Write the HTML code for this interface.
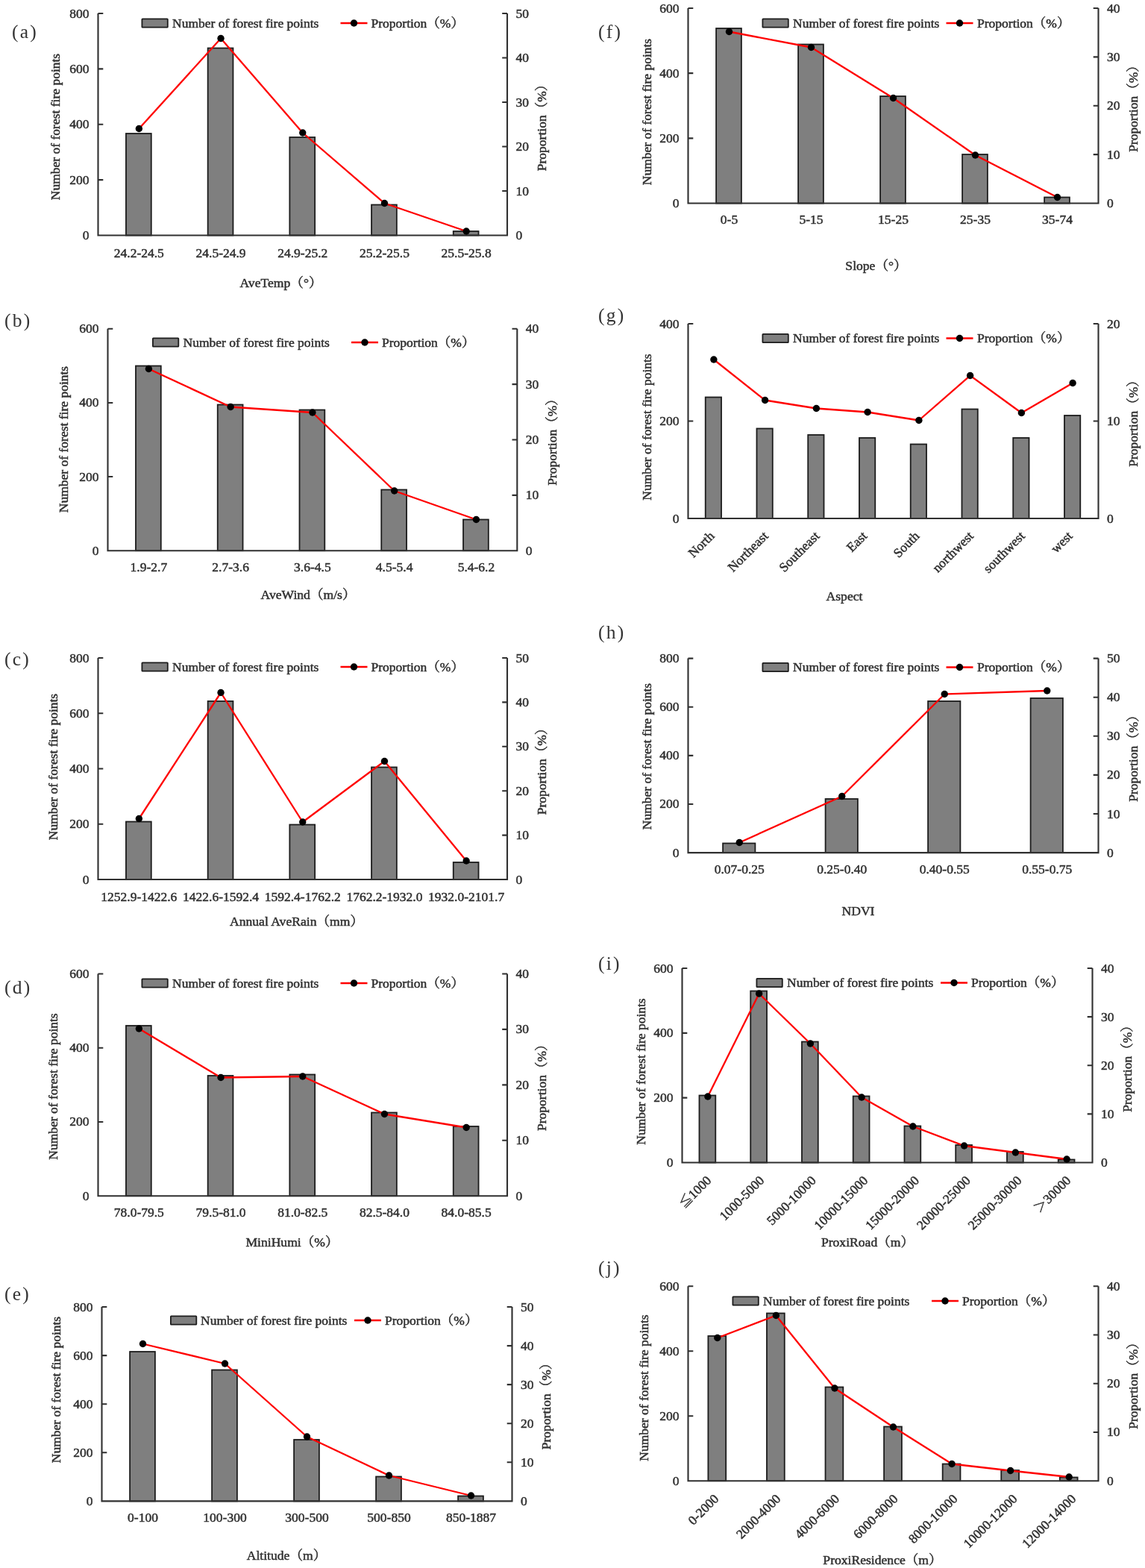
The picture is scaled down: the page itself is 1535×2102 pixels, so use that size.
<!DOCTYPE html>
<html lang="en">
<head>
<meta charset="utf-8">
<title>Forest fire points and proportion by factor</title>
<style>
html,body{margin:0;padding:0;background:#fff;}
body{width:1535px;height:2102px;overflow:hidden;}
svg{display:block;}
.t{font-family:"Liberation Serif","Noto Serif CJK SC",serif;font-size:17.5px;fill:#303030;stroke:#303030;stroke-width:0.5px;}
.xt{font-size:17.6px;}
.pl{font-family:"Liberation Serif","Noto Serif CJK SC",serif;font-size:25.5px;fill:#333;letter-spacing:2.2px;}
.bar{fill:#7f7f7f;stroke:#1c1c1c;stroke-width:1.8;}
.ax{fill:none;stroke:#303030;stroke-width:2.1;}
.ln{fill:none;stroke:#ff0000;stroke-width:2.3;stroke-linejoin:round;}
.mk{fill:#000;}
</style>
</head>
<body>
<svg width="1535" height="2102" viewBox="0 0 1535 2102">
<rect x="0" y="0" width="1535" height="2102" fill="#ffffff"/>
<g class="chart" id="chart-a">
<rect class="bar" x="168.95" y="179" width="33.8" height="136.5"/>
<rect class="bar" x="278.65" y="64.5" width="33.8" height="251"/>
<rect class="bar" x="388.35" y="184" width="33.8" height="131.5"/>
<rect class="bar" x="498.05" y="274.5" width="33.8" height="41"/>
<rect class="bar" x="607.75" y="310" width="33.8" height="5.5"/>
<path class="ax" d="M131.5 18V315.5H680V18"/>
<text class="t" text-anchor="end" x="119.5" y="321">0</text>
<text class="t" text-anchor="end" x="119.5" y="246.62">200</text>
<text class="t" text-anchor="end" x="119.5" y="172.25">400</text>
<text class="t" text-anchor="end" x="119.5" y="97.88">600</text>
<text class="t" text-anchor="end" x="119.5" y="23.5">800</text>
<text class="t" x="691.5" y="321">0</text>
<text class="t" x="691.5" y="261.5">10</text>
<text class="t" x="691.5" y="202">20</text>
<text class="t" x="691.5" y="142.5">30</text>
<text class="t" x="691.5" y="83">40</text>
<text class="t" x="691.5" y="23.5">50</text>
<path class="ax" d="M131.5 241.12h6.8M131.5 166.75h6.8M131.5 92.38h6.8M131.5 18h6.8M680 256h-6.8M680 196.5h-6.8M680 137h-6.8M680 77.5h-6.8M680 18h-6.8"/>
<polyline class="ln" points="186.35,172.5 296.05,51.5 405.75,178 515.45,272.5 625.15,310"/>
<circle class="mk" cx="186.35" cy="172.5" r="4.7"/>
<circle class="mk" cx="296.05" cy="51.5" r="4.7"/>
<circle class="mk" cx="405.75" cy="178" r="4.7"/>
<circle class="mk" cx="515.45" cy="272.5" r="4.7"/>
<circle class="mk" cx="625.15" cy="310" r="4.7"/>
<text class="t" text-anchor="middle" x="186.35" y="344.5">24.2-24.5</text>
<text class="t" text-anchor="middle" x="296.05" y="344.5">24.5-24.9</text>
<text class="t" text-anchor="middle" x="405.75" y="344.5">24.9-25.2</text>
<text class="t" text-anchor="middle" x="515.45" y="344.5">25.2-25.5</text>
<text class="t" text-anchor="middle" x="625.15" y="344.5">25.5-25.8</text>
<rect class="bar" x="190.4" y="25.3" width="34.4" height="11.4" rx="0.6"/>
<text class="t" x="231" y="36.9">Number of forest fire points</text>
<path class="ln" d="M456.5 31h36"/>
<circle class="mk" cx="474.5" cy="31" r="4.7"/>
<text class="t" x="497.5" y="36.9">Proportion（%）</text>
<text class="t" text-anchor="middle" transform="translate(79.8 170) rotate(-90)" x="0" y="0">Number of forest fire points</text>
<text class="t" text-anchor="middle" transform="translate(731.5 167) rotate(-90)" x="0" y="0">Proportion（%）</text>
<text class="t xt" text-anchor="middle" x="376.5" y="384.5">AveTemp（°）</text>
<text class="pl" x="16" y="51">(a)</text>
</g>
<g class="chart" id="chart-b">
<rect class="bar" x="181.98" y="490.5" width="33.8" height="247.7"/>
<rect class="bar" x="291.74" y="542.5" width="33.8" height="195.7"/>
<rect class="bar" x="401.5" y="549.5" width="33.8" height="188.7"/>
<rect class="bar" x="511.26" y="656.5" width="33.8" height="81.7"/>
<rect class="bar" x="621.02" y="696.5" width="33.8" height="41.7"/>
<path class="ax" d="M144.5 440.8V738.2H693.3V440.8"/>
<text class="t" text-anchor="end" x="132.5" y="743.7">0</text>
<text class="t" text-anchor="end" x="132.5" y="644.57">200</text>
<text class="t" text-anchor="end" x="132.5" y="545.43">400</text>
<text class="t" text-anchor="end" x="132.5" y="446.3">600</text>
<text class="t" x="704.8" y="743.7">0</text>
<text class="t" x="704.8" y="669.35">10</text>
<text class="t" x="704.8" y="595">20</text>
<text class="t" x="704.8" y="520.65">30</text>
<text class="t" x="704.8" y="446.3">40</text>
<path class="ax" d="M144.5 639.07h6.8M144.5 539.93h6.8M144.5 440.8h6.8M693.3 663.85h-6.8M693.3 589.5h-6.8M693.3 515.15h-6.8M693.3 440.8h-6.8"/>
<polyline class="ln" points="199.38,494.5 309.14,545.5 418.9,553 528.66,658 638.42,696.5"/>
<circle class="mk" cx="199.38" cy="494.5" r="4.7"/>
<circle class="mk" cx="309.14" cy="545.5" r="4.7"/>
<circle class="mk" cx="418.9" cy="553" r="4.7"/>
<circle class="mk" cx="528.66" cy="658" r="4.7"/>
<circle class="mk" cx="638.42" cy="696.5" r="4.7"/>
<text class="t" text-anchor="middle" x="199.38" y="766.4">1.9-2.7</text>
<text class="t" text-anchor="middle" x="309.14" y="766.4">2.7-3.6</text>
<text class="t" text-anchor="middle" x="418.9" y="766.4">3.6-4.5</text>
<text class="t" text-anchor="middle" x="528.66" y="766.4">4.5-5.4</text>
<text class="t" text-anchor="middle" x="638.42" y="766.4">5.4-6.2</text>
<rect class="bar" x="204.9" y="453.3" width="34.4" height="11.4" rx="0.6"/>
<text class="t" x="245.5" y="464.9">Number of forest fire points</text>
<path class="ln" d="M471 459h36"/>
<circle class="mk" cx="489" cy="459" r="4.7"/>
<text class="t" x="512" y="464.9">Proportion（%）</text>
<text class="t" text-anchor="middle" transform="translate(90.8 589) rotate(-90)" x="0" y="0">Number of forest fire points</text>
<text class="t" text-anchor="middle" transform="translate(745.5 588.5) rotate(-90)" x="0" y="0">Proportion（%）</text>
<text class="t xt" text-anchor="middle" x="413" y="802.8">AveWind（m/s）</text>
<text class="pl" x="6" y="438">(b)</text>
</g>
<g class="chart" id="chart-c">
<rect class="bar" x="168.95" y="1101.5" width="33.8" height="77.5"/>
<rect class="bar" x="278.65" y="940" width="33.8" height="239"/>
<rect class="bar" x="388.35" y="1105.5" width="33.8" height="73.5"/>
<rect class="bar" x="498.05" y="1028.5" width="33.8" height="150.5"/>
<rect class="bar" x="607.75" y="1156" width="33.8" height="23"/>
<path class="ax" d="M131.5 882V1179H680V882"/>
<text class="t" text-anchor="end" x="119.5" y="1184.5">0</text>
<text class="t" text-anchor="end" x="119.5" y="1110.25">200</text>
<text class="t" text-anchor="end" x="119.5" y="1036">400</text>
<text class="t" text-anchor="end" x="119.5" y="961.75">600</text>
<text class="t" text-anchor="end" x="119.5" y="887.5">800</text>
<text class="t" x="691.5" y="1184.5">0</text>
<text class="t" x="691.5" y="1125.1">10</text>
<text class="t" x="691.5" y="1065.7">20</text>
<text class="t" x="691.5" y="1006.3">30</text>
<text class="t" x="691.5" y="946.9">40</text>
<text class="t" x="691.5" y="887.5">50</text>
<path class="ax" d="M131.5 1104.75h6.8M131.5 1030.5h6.8M131.5 956.25h6.8M131.5 882h6.8M680 1119.6h-6.8M680 1060.2h-6.8M680 1000.8h-6.8M680 941.4h-6.8M680 882h-6.8"/>
<polyline class="ln" points="186.35,1097.5 296.05,928.5 405.75,1102 515.45,1020.5 625.15,1154"/>
<circle class="mk" cx="186.35" cy="1097.5" r="4.7"/>
<circle class="mk" cx="296.05" cy="928.5" r="4.7"/>
<circle class="mk" cx="405.75" cy="1102" r="4.7"/>
<circle class="mk" cx="515.45" cy="1020.5" r="4.7"/>
<circle class="mk" cx="625.15" cy="1154" r="4.7"/>
<text class="t" text-anchor="middle" x="186.35" y="1207.5">1252.9-1422.6</text>
<text class="t" text-anchor="middle" x="296.05" y="1207.5">1422.6-1592.4</text>
<text class="t" text-anchor="middle" x="405.75" y="1207.5">1592.4-1762.2</text>
<text class="t" text-anchor="middle" x="515.45" y="1207.5">1762.2-1932.0</text>
<text class="t" text-anchor="middle" x="625.15" y="1207.5">1932.0-2101.7</text>
<rect class="bar" x="190.4" y="888.3" width="34.4" height="11.4" rx="0.6"/>
<text class="t" x="231" y="899.9">Number of forest fire points</text>
<path class="ln" d="M456.5 894h36"/>
<circle class="mk" cx="474.5" cy="894" r="4.7"/>
<text class="t" x="497.5" y="899.9">Proportion（%）</text>
<text class="t" text-anchor="middle" transform="translate(77.3 1028) rotate(-90)" x="0" y="0">Number of forest fire points</text>
<text class="t" text-anchor="middle" transform="translate(732 1030) rotate(-90)" x="0" y="0">Proportion（%）</text>
<text class="t xt" text-anchor="middle" x="397.5" y="1240.9">Annual AveRain（mm）</text>
<text class="pl" x="6" y="892">(c)</text>
</g>
<g class="chart" id="chart-d">
<rect class="bar" x="168.95" y="1375" width="33.8" height="228.2"/>
<rect class="bar" x="278.65" y="1442" width="33.8" height="161.2"/>
<rect class="bar" x="388.35" y="1440.5" width="33.8" height="162.7"/>
<rect class="bar" x="498.05" y="1491.5" width="33.8" height="111.7"/>
<rect class="bar" x="607.75" y="1510" width="33.8" height="93.2"/>
<path class="ax" d="M131.5 1305.5V1603.2H680V1305.5"/>
<text class="t" text-anchor="end" x="119.5" y="1608.7">0</text>
<text class="t" text-anchor="end" x="119.5" y="1509.47">200</text>
<text class="t" text-anchor="end" x="119.5" y="1410.23">400</text>
<text class="t" text-anchor="end" x="119.5" y="1311">600</text>
<text class="t" x="691.5" y="1608.7">0</text>
<text class="t" x="691.5" y="1534.28">10</text>
<text class="t" x="691.5" y="1459.85">20</text>
<text class="t" x="691.5" y="1385.42">30</text>
<text class="t" x="691.5" y="1311">40</text>
<path class="ax" d="M131.5 1503.97h6.8M131.5 1404.73h6.8M131.5 1305.5h6.8M680 1528.78h-6.8M680 1454.35h-6.8M680 1379.92h-6.8M680 1305.5h-6.8"/>
<polyline class="ln" points="186.35,1379 296.05,1444.5 405.75,1443 515.45,1493.5 625.15,1511.5"/>
<circle class="mk" cx="186.35" cy="1379" r="4.7"/>
<circle class="mk" cx="296.05" cy="1444.5" r="4.7"/>
<circle class="mk" cx="405.75" cy="1443" r="4.7"/>
<circle class="mk" cx="515.45" cy="1493.5" r="4.7"/>
<circle class="mk" cx="625.15" cy="1511.5" r="4.7"/>
<text class="t" text-anchor="middle" x="186.35" y="1630.9">78.0-79.5</text>
<text class="t" text-anchor="middle" x="296.05" y="1630.9">79.5-81.0</text>
<text class="t" text-anchor="middle" x="405.75" y="1630.9">81.0-82.5</text>
<text class="t" text-anchor="middle" x="515.45" y="1630.9">82.5-84.0</text>
<text class="t" text-anchor="middle" x="625.15" y="1630.9">84.0-85.5</text>
<rect class="bar" x="190.4" y="1312.3" width="34.4" height="11.4" rx="0.6"/>
<text class="t" x="231" y="1323.9">Number of forest fire points</text>
<path class="ln" d="M456.5 1318h36"/>
<circle class="mk" cx="474.5" cy="1318" r="4.7"/>
<text class="t" x="497.5" y="1323.9">Proportion（%）</text>
<text class="t" text-anchor="middle" transform="translate(77.3 1456.5) rotate(-90)" x="0" y="0">Number of forest fire points</text>
<text class="t" text-anchor="middle" transform="translate(732 1453.75) rotate(-90)" x="0" y="0">Proportion（%）</text>
<text class="t xt" text-anchor="middle" x="391.5" y="1671.3">MiniHumi（%）</text>
<text class="pl" x="6" y="1332">(d)</text>
</g>
<g class="chart" id="chart-e">
<rect class="bar" x="174.1" y="1812" width="33.8" height="200.4"/>
<rect class="bar" x="284.1" y="1836.5" width="33.8" height="175.9"/>
<rect class="bar" x="394.1" y="1930" width="33.8" height="82.4"/>
<rect class="bar" x="504.1" y="1979.5" width="33.8" height="32.9"/>
<rect class="bar" x="614.1" y="2005.5" width="33.8" height="6.9"/>
<path class="ax" d="M136.5 1752V2012.4H686.5V1752"/>
<text class="t" text-anchor="end" x="124.5" y="2017.9">0</text>
<text class="t" text-anchor="end" x="124.5" y="1952.8">200</text>
<text class="t" text-anchor="end" x="124.5" y="1887.7">400</text>
<text class="t" text-anchor="end" x="124.5" y="1822.6">600</text>
<text class="t" text-anchor="end" x="124.5" y="1757.5">800</text>
<text class="t" x="698" y="2017.9">0</text>
<text class="t" x="698" y="1965.82">10</text>
<text class="t" x="698" y="1913.74">20</text>
<text class="t" x="698" y="1861.66">30</text>
<text class="t" x="698" y="1809.58">40</text>
<text class="t" x="698" y="1757.5">50</text>
<path class="ax" d="M136.5 1947.3h6.8M136.5 1882.2h6.8M136.5 1817.1h6.8M136.5 1752h6.8M686.5 1960.32h-6.8M686.5 1908.24h-6.8M686.5 1856.16h-6.8M686.5 1804.08h-6.8M686.5 1752h-6.8"/>
<polyline class="ln" points="191.5,1801.5 301.5,1828 411.5,1926 521.5,1978 631.5,2005"/>
<circle class="mk" cx="191.5" cy="1801.5" r="4.7"/>
<circle class="mk" cx="301.5" cy="1828" r="4.7"/>
<circle class="mk" cx="411.5" cy="1926" r="4.7"/>
<circle class="mk" cx="521.5" cy="1978" r="4.7"/>
<circle class="mk" cx="631.5" cy="2005" r="4.7"/>
<text class="t" text-anchor="middle" x="191.5" y="2039.9">0-100</text>
<text class="t" text-anchor="middle" x="301.5" y="2039.9">100-300</text>
<text class="t" text-anchor="middle" x="411.5" y="2039.9">300-500</text>
<text class="t" text-anchor="middle" x="521.5" y="2039.9">500-850</text>
<text class="t" text-anchor="middle" x="631.5" y="2039.9">850-1887</text>
<rect class="bar" x="228.9" y="1764.3" width="34.4" height="11.4" rx="0.6"/>
<text class="t" x="269" y="1775.9">Number of forest fire points</text>
<path class="ln" d="M475 1770h36"/>
<circle class="mk" cx="493" cy="1770" r="4.7"/>
<text class="t" x="516" y="1775.9">Proportion（%）</text>
<text class="t" text-anchor="middle" transform="translate(80.8 1863) rotate(-90)" x="0" y="0">Number of forest fire points</text>
<text class="t" text-anchor="middle" transform="translate(738 1881) rotate(-90)" x="0" y="0">Proportion（%）</text>
<text class="t xt" text-anchor="middle" x="384" y="2091.3">Altitude（m）</text>
<text class="pl" x="6" y="1743">(e)</text>
</g>
<g class="chart" id="chart-f">
<rect class="bar" x="960.1" y="38" width="33.8" height="234.5"/>
<rect class="bar" x="1070.1" y="59.5" width="33.8" height="213"/>
<rect class="bar" x="1180.1" y="129" width="33.8" height="143.5"/>
<rect class="bar" x="1290.1" y="207" width="33.8" height="65.5"/>
<rect class="bar" x="1400.1" y="264.5" width="33.8" height="8"/>
<path class="ax" d="M922.5 11V272.5H1472.5V11"/>
<text class="t" text-anchor="end" x="910.5" y="278">0</text>
<text class="t" text-anchor="end" x="910.5" y="190.83">200</text>
<text class="t" text-anchor="end" x="910.5" y="103.67">400</text>
<text class="t" text-anchor="end" x="910.5" y="16.5">600</text>
<text class="t" x="1484" y="278">0</text>
<text class="t" x="1484" y="212.62">10</text>
<text class="t" x="1484" y="147.25">20</text>
<text class="t" x="1484" y="81.88">30</text>
<text class="t" x="1484" y="16.5">40</text>
<path class="ax" d="M922.5 185.33h6.8M922.5 98.17h6.8M922.5 11h6.8M1472.5 207.12h-6.8M1472.5 141.75h-6.8M1472.5 76.38h-6.8M1472.5 11h-6.8"/>
<polyline class="ln" points="977.5,42.5 1087.5,63.5 1197.5,131.5 1307.5,208 1417.5,264.5"/>
<circle class="mk" cx="977.5" cy="42.5" r="4.7"/>
<circle class="mk" cx="1087.5" cy="63.5" r="4.7"/>
<circle class="mk" cx="1197.5" cy="131.5" r="4.7"/>
<circle class="mk" cx="1307.5" cy="208" r="4.7"/>
<circle class="mk" cx="1417.5" cy="264.5" r="4.7"/>
<text class="t" text-anchor="middle" x="977.5" y="299.9">0-5</text>
<text class="t" text-anchor="middle" x="1087.5" y="299.9">5-15</text>
<text class="t" text-anchor="middle" x="1197.5" y="299.9">15-25</text>
<text class="t" text-anchor="middle" x="1307.5" y="299.9">25-35</text>
<text class="t" text-anchor="middle" x="1417.5" y="299.9">35-74</text>
<rect class="bar" x="1022.4" y="25.3" width="34.4" height="11.4" rx="0.6"/>
<text class="t" x="1063" y="36.9">Number of forest fire points</text>
<path class="ln" d="M1268.5 31h36"/>
<circle class="mk" cx="1286.5" cy="31" r="4.7"/>
<text class="t" x="1310" y="36.9">Proportion（%）</text>
<text class="t" text-anchor="middle" transform="translate(872.8 150) rotate(-90)" x="0" y="0">Number of forest fire points</text>
<text class="t" text-anchor="middle" transform="translate(1525 141.5) rotate(-90)" x="0" y="0">Proportion（%）</text>
<text class="t xt" text-anchor="middle" x="1174.5" y="361.8">Slope（°）</text>
<text class="pl" x="802" y="51">(f)</text>
</g>
<g class="chart" id="chart-g">
<rect class="bar" x="945.73" y="532.5" width="21.3" height="162.5"/>
<rect class="bar" x="1014.48" y="574.5" width="21.3" height="120.5"/>
<rect class="bar" x="1083.22" y="583" width="21.3" height="112"/>
<rect class="bar" x="1151.97" y="587" width="21.3" height="108"/>
<rect class="bar" x="1220.72" y="595.5" width="21.3" height="99.5"/>
<rect class="bar" x="1289.47" y="548.5" width="21.3" height="146.5"/>
<rect class="bar" x="1358.22" y="587" width="21.3" height="108"/>
<rect class="bar" x="1426.97" y="557" width="21.3" height="138"/>
<path class="ax" d="M922.5 434V695H1472.5V434"/>
<text class="t" text-anchor="end" x="910.5" y="700.5">0</text>
<text class="t" text-anchor="end" x="910.5" y="570">200</text>
<text class="t" text-anchor="end" x="910.5" y="439.5">400</text>
<text class="t" x="1484" y="700.5">0</text>
<text class="t" x="1484" y="570">10</text>
<text class="t" x="1484" y="439.5">20</text>
<path class="ax" d="M922.5 564.5h6.8M922.5 434h6.8M1472.5 564.5h-6.8M1472.5 434h-6.8"/>
<polyline class="ln" points="956.88,482 1025.62,536.5 1094.38,547.5 1163.12,552.5 1231.88,563.5 1300.62,503.5 1369.38,553.5 1438.12,513.5"/>
<circle class="mk" cx="956.88" cy="482" r="4.7"/>
<circle class="mk" cx="1025.62" cy="536.5" r="4.7"/>
<circle class="mk" cx="1094.38" cy="547.5" r="4.7"/>
<circle class="mk" cx="1163.12" cy="552.5" r="4.7"/>
<circle class="mk" cx="1231.88" cy="563.5" r="4.7"/>
<circle class="mk" cx="1300.62" cy="503.5" r="4.7"/>
<circle class="mk" cx="1369.38" cy="553.5" r="4.7"/>
<circle class="mk" cx="1438.12" cy="513.5" r="4.7"/>
<text class="t" text-anchor="end" transform="translate(958.57 719.5) rotate(-45)" x="0" y="0">North</text>
<text class="t" text-anchor="end" transform="translate(1030.86 719.5) rotate(-45)" x="0" y="0">Northeast</text>
<text class="t" text-anchor="end" transform="translate(1099.61 719.5) rotate(-45)" x="0" y="0">Southeast</text>
<text class="t" text-anchor="end" transform="translate(1163.43 719.5) rotate(-45)" x="0" y="0">East</text>
<text class="t" text-anchor="end" transform="translate(1233.57 719.5) rotate(-45)" x="0" y="0">South</text>
<text class="t" text-anchor="end" transform="translate(1305.99 719.5) rotate(-45)" x="0" y="0">northwest</text>
<text class="t" text-anchor="end" transform="translate(1374.86 719.5) rotate(-45)" x="0" y="0">southwest</text>
<text class="t" text-anchor="end" transform="translate(1438.69 719.5) rotate(-45)" x="0" y="0">west</text>
<rect class="bar" x="1022.4" y="447.8" width="34.4" height="11.4" rx="0.6"/>
<text class="t" x="1063" y="459.4">Number of forest fire points</text>
<path class="ln" d="M1268.5 453.5h36"/>
<circle class="mk" cx="1286.5" cy="453.5" r="4.7"/>
<text class="t" x="1310" y="459.4">Proportion（%）</text>
<text class="t" text-anchor="middle" transform="translate(872.8 572.5) rotate(-90)" x="0" y="0">Number of forest fire points</text>
<text class="t" text-anchor="middle" transform="translate(1525 563.5) rotate(-90)" x="0" y="0">Proportion（%）</text>
<text class="t xt" text-anchor="middle" x="1132" y="804.8">Aspect</text>
<text class="pl" x="802" y="431">(g)</text>
</g>
<g class="chart" id="chart-h">
<rect class="bar" x="969.1" y="1130.5" width="43.3" height="12.6"/>
<rect class="bar" x="1106.6" y="1071" width="43.3" height="72.1"/>
<rect class="bar" x="1244.1" y="940" width="43.3" height="203.1"/>
<rect class="bar" x="1381.6" y="936" width="43.3" height="207.1"/>
<path class="ax" d="M922.5 882.6V1143.1H1472.5V882.6"/>
<text class="t" text-anchor="end" x="910.5" y="1148.6">0</text>
<text class="t" text-anchor="end" x="910.5" y="1083.47">200</text>
<text class="t" text-anchor="end" x="910.5" y="1018.35">400</text>
<text class="t" text-anchor="end" x="910.5" y="953.23">600</text>
<text class="t" text-anchor="end" x="910.5" y="888.1">800</text>
<text class="t" x="1484" y="1148.6">0</text>
<text class="t" x="1484" y="1096.5">10</text>
<text class="t" x="1484" y="1044.4">20</text>
<text class="t" x="1484" y="992.3">30</text>
<text class="t" x="1484" y="940.2">40</text>
<text class="t" x="1484" y="888.1">50</text>
<path class="ax" d="M922.5 1077.97h6.8M922.5 1012.85h6.8M922.5 947.73h6.8M922.5 882.6h6.8M1472.5 1091h-6.8M1472.5 1038.9h-6.8M1472.5 986.8h-6.8M1472.5 934.7h-6.8M1472.5 882.6h-6.8"/>
<polyline class="ln" points="991.25,1129.5 1128.75,1067.5 1266.25,930.5 1403.75,926"/>
<circle class="mk" cx="991.25" cy="1129.5" r="4.7"/>
<circle class="mk" cx="1128.75" cy="1067.5" r="4.7"/>
<circle class="mk" cx="1266.25" cy="930.5" r="4.7"/>
<circle class="mk" cx="1403.75" cy="926" r="4.7"/>
<text class="t" text-anchor="middle" x="991.25" y="1171.4">0.07-0.25</text>
<text class="t" text-anchor="middle" x="1128.75" y="1171.4">0.25-0.40</text>
<text class="t" text-anchor="middle" x="1266.25" y="1171.4">0.40-0.55</text>
<text class="t" text-anchor="middle" x="1403.75" y="1171.4">0.55-0.75</text>
<rect class="bar" x="1022.4" y="888.8" width="34.4" height="11.4" rx="0.6"/>
<text class="t" x="1063" y="900.4">Number of forest fire points</text>
<path class="ln" d="M1268.5 894.5h36"/>
<circle class="mk" cx="1286.5" cy="894.5" r="4.7"/>
<text class="t" x="1310" y="900.4">Proportion（%）</text>
<text class="t" text-anchor="middle" transform="translate(872.8 1014) rotate(-90)" x="0" y="0">Number of forest fire points</text>
<text class="t" text-anchor="middle" transform="translate(1525 1012.5) rotate(-90)" x="0" y="0">Proportion（%）</text>
<text class="t xt" text-anchor="middle" x="1150.5" y="1226.8">NDVI</text>
<text class="pl" x="802" y="856">(h)</text>
</g>
<g class="chart" id="chart-i">
<rect class="bar" x="937.48" y="1468.5" width="21.8" height="90"/>
<rect class="bar" x="1006.23" y="1328.5" width="21.8" height="230"/>
<rect class="bar" x="1074.97" y="1396.5" width="21.8" height="162"/>
<rect class="bar" x="1143.72" y="1469.5" width="21.8" height="89"/>
<rect class="bar" x="1212.47" y="1509.5" width="21.8" height="49"/>
<rect class="bar" x="1281.22" y="1535" width="21.8" height="23.5"/>
<rect class="bar" x="1349.97" y="1544" width="21.8" height="14.5"/>
<rect class="bar" x="1418.72" y="1554.5" width="21.8" height="4"/>
<path class="ax" d="M914.5 1298V1558.5H1464.5V1298"/>
<text class="t" text-anchor="end" x="902.5" y="1564">0</text>
<text class="t" text-anchor="end" x="902.5" y="1477.17">200</text>
<text class="t" text-anchor="end" x="902.5" y="1390.33">400</text>
<text class="t" text-anchor="end" x="902.5" y="1303.5">600</text>
<text class="t" x="1476" y="1564">0</text>
<text class="t" x="1476" y="1498.88">10</text>
<text class="t" x="1476" y="1433.75">20</text>
<text class="t" x="1476" y="1368.62">30</text>
<text class="t" x="1476" y="1303.5">40</text>
<path class="ax" d="M914.5 1471.67h6.8M914.5 1384.83h6.8M914.5 1298h6.8M1464.5 1493.38h-6.8M1464.5 1428.25h-6.8M1464.5 1363.12h-6.8M1464.5 1298h-6.8"/>
<polyline class="ln" points="948.88,1470 1017.62,1332 1086.38,1399 1155.12,1471 1223.88,1510 1292.62,1536 1361.38,1545 1430.12,1554"/>
<circle class="mk" cx="948.88" cy="1470" r="4.7"/>
<circle class="mk" cx="1017.62" cy="1332" r="4.7"/>
<circle class="mk" cx="1086.38" cy="1399" r="4.7"/>
<circle class="mk" cx="1155.12" cy="1471" r="4.7"/>
<circle class="mk" cx="1223.88" cy="1510" r="4.7"/>
<circle class="mk" cx="1292.62" cy="1536" r="4.7"/>
<circle class="mk" cx="1361.38" cy="1545" r="4.7"/>
<circle class="mk" cx="1430.12" cy="1554" r="4.7"/>
<text class="t" text-anchor="end" transform="translate(954.52 1583.5) rotate(-45)" x="0" y="0">≦1000</text>
<text class="t" text-anchor="end" transform="translate(1025.37 1583.5) rotate(-45)" x="0" y="0">1000-5000</text>
<text class="t" text-anchor="end" transform="translate(1094.91 1583.5) rotate(-45)" x="0" y="0">5000-10000</text>
<text class="t" text-anchor="end" transform="translate(1164.44 1583.5) rotate(-45)" x="0" y="0">10000-15000</text>
<text class="t" text-anchor="end" transform="translate(1233.19 1583.5) rotate(-45)" x="0" y="0">15000-20000</text>
<text class="t" text-anchor="end" transform="translate(1301.94 1583.5) rotate(-45)" x="0" y="0">20000-25000</text>
<text class="t" text-anchor="end" transform="translate(1370.69 1583.5) rotate(-45)" x="0" y="0">25000-30000</text>
<text class="t" text-anchor="end" transform="translate(1436.56 1583.5) rotate(-45)" x="0" y="0">＞30000</text>
<rect class="bar" x="1014.4" y="1311.8" width="34.4" height="11.4" rx="0.6"/>
<text class="t" x="1055" y="1323.4">Number of forest fire points</text>
<path class="ln" d="M1261 1317.5h36"/>
<circle class="mk" cx="1279" cy="1317.5" r="4.7"/>
<text class="t" x="1302" y="1323.4">Proportion（%）</text>
<text class="t" text-anchor="middle" transform="translate(865.3 1436.5) rotate(-90)" x="0" y="0">Number of forest fire points</text>
<text class="t" text-anchor="middle" transform="translate(1517 1428.5) rotate(-90)" x="0" y="0">Proportion（%）</text>
<text class="t xt" text-anchor="middle" x="1163" y="1671.3">ProxiRoad（m）</text>
<text class="pl" x="802" y="1300">(i)</text>
</g>
<g class="chart" id="chart-j">
<rect class="bar" x="949.39" y="1791" width="23.8" height="194.2"/>
<rect class="bar" x="1027.96" y="1760.5" width="23.8" height="224.7"/>
<rect class="bar" x="1106.53" y="1859.5" width="23.8" height="125.7"/>
<rect class="bar" x="1185.1" y="1912.5" width="23.8" height="72.7"/>
<rect class="bar" x="1263.67" y="1962.5" width="23.8" height="22.7"/>
<rect class="bar" x="1342.24" y="1971" width="23.8" height="14.2"/>
<rect class="bar" x="1420.81" y="1980.5" width="23.8" height="4.7"/>
<path class="ax" d="M922.5 1724.2V1985.2H1472.5V1724.2"/>
<text class="t" text-anchor="end" x="910.5" y="1990.7">0</text>
<text class="t" text-anchor="end" x="910.5" y="1903.7">200</text>
<text class="t" text-anchor="end" x="910.5" y="1816.7">400</text>
<text class="t" text-anchor="end" x="910.5" y="1729.7">600</text>
<text class="t" x="1484" y="1990.7">0</text>
<text class="t" x="1484" y="1925.45">10</text>
<text class="t" x="1484" y="1860.2">20</text>
<text class="t" x="1484" y="1794.95">30</text>
<text class="t" x="1484" y="1729.7">40</text>
<path class="ax" d="M922.5 1898.2h6.8M922.5 1811.2h6.8M922.5 1724.2h6.8M1472.5 1919.95h-6.8M1472.5 1854.7h-6.8M1472.5 1789.45h-6.8M1472.5 1724.2h-6.8"/>
<polyline class="ln" points="961.79,1793.5 1040.36,1763.5 1118.93,1861 1197.5,1913 1276.07,1962.5 1354.64,1971.5 1433.21,1980"/>
<circle class="mk" cx="961.79" cy="1793.5" r="4.7"/>
<circle class="mk" cx="1040.36" cy="1763.5" r="4.7"/>
<circle class="mk" cx="1118.93" cy="1861" r="4.7"/>
<circle class="mk" cx="1197.5" cy="1913" r="4.7"/>
<circle class="mk" cx="1276.07" cy="1962.5" r="4.7"/>
<circle class="mk" cx="1354.64" cy="1971.5" r="4.7"/>
<circle class="mk" cx="1433.21" cy="1980" r="4.7"/>
<text class="t" text-anchor="end" transform="translate(964.47 2010.2) rotate(-45)" x="0" y="0">0-2000</text>
<text class="t" text-anchor="end" transform="translate(1047.51 2010.2) rotate(-45)" x="0" y="0">2000-4000</text>
<text class="t" text-anchor="end" transform="translate(1126.08 2010.2) rotate(-45)" x="0" y="0">4000-6000</text>
<text class="t" text-anchor="end" transform="translate(1204.65 2010.2) rotate(-45)" x="0" y="0">6000-8000</text>
<text class="t" text-anchor="end" transform="translate(1284.71 2010.2) rotate(-45)" x="0" y="0">8000-10000</text>
<text class="t" text-anchor="end" transform="translate(1364.77 2010.2) rotate(-45)" x="0" y="0">10000-12000</text>
<text class="t" text-anchor="end" transform="translate(1443.34 2010.2) rotate(-45)" x="0" y="0">12000-14000</text>
<rect class="bar" x="982.4" y="1738.3" width="34.4" height="11.4" rx="0.6"/>
<text class="t" x="1023" y="1749.9">Number of forest fire points</text>
<path class="ln" d="M1249 1744h36"/>
<circle class="mk" cx="1267" cy="1744" r="4.7"/>
<text class="t" x="1290" y="1749.9">Proportion（%）</text>
<text class="t" text-anchor="middle" transform="translate(868.8 1860.5) rotate(-90)" x="0" y="0">Number of forest fire points</text>
<text class="t" text-anchor="middle" transform="translate(1525 1853.5) rotate(-90)" x="0" y="0">Proportion（%）</text>
<text class="t xt" text-anchor="middle" x="1183" y="2096.8">ProxiResidence（m）</text>
<text class="pl" x="802" y="1708">(j)</text>
</g>
</svg>
</body>
</html>
